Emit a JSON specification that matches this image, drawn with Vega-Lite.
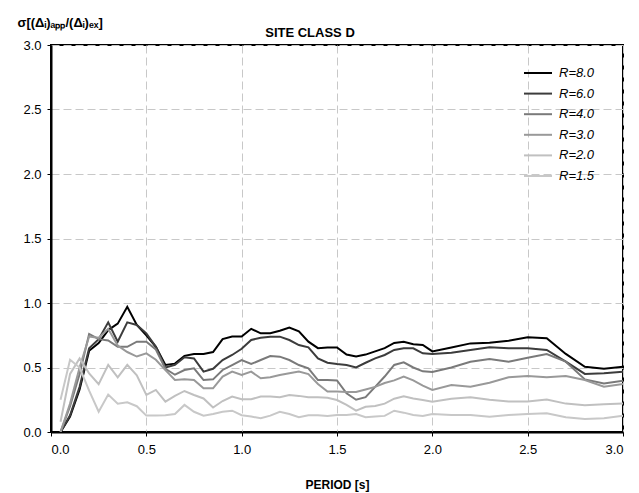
{
  "$schema": "https://vega.github.io/schema/vega-lite/v6.json",
  "width": 572,
  "height": 387,
  "autosize": {"type": "none"},
  "padding": {"left": 51, "top": 45, "right": 16, "bottom": 61},
  "background": "white",
  "config": {
    "font": "Liberation Sans",
    "view": {"stroke": "black", "strokeWidth": 2},
    "axis": {
      "grid": true,
      "gridDash": [8, 4],
      "gridColor": "#c8c8c8",
      "gridWidth": 1,
      "domainColor": "black",
      "domainWidth": 2,
      "tickColor": "black",
      "tickSize": 4,
      "labelFont": "Liberation Sans",
      "labelFontSize": 13,
      "labelColor": "black",
      "titleFont": "Liberation Sans",
      "titleColor": "black",
      "titleFontWeight": "bold"
    }
  },
  "title": {
    "text": "SITE CLASS D",
    "font": "Liberation Sans",
    "fontSize": 13,
    "fontWeight": "bold",
    "color": "black",
    "dx": -27,
    "dy": 32,
    "offset": 8
  },
  "datasets": {
    "curves": [
      {"T": 0.05, "r80": 0.00, "r60": 0.00, "r40": 0.00, "r30": 0.00, "r20": 0.08, "r15": 0.25},
      {"T": 0.10, "r80": 0.12, "r60": 0.13, "r40": 0.20, "r30": 0.22, "r20": 0.45, "r15": 0.56},
      {"T": 0.15, "r80": 0.33, "r60": 0.35, "r40": 0.45, "r30": 0.50, "r20": 0.57, "r15": 0.50},
      {"T": 0.20, "r80": 0.63, "r60": 0.65, "r40": 0.76, "r30": 0.74, "r20": 0.455, "r15": 0.32},
      {"T": 0.25, "r80": 0.69, "r60": 0.72, "r40": 0.72, "r30": 0.73, "r20": 0.37, "r15": 0.157},
      {"T": 0.30, "r80": 0.79, "r60": 0.85, "r40": 0.71, "r30": 0.80, "r20": 0.52, "r15": 0.29},
      {"T": 0.35, "r80": 0.84, "r60": 0.70, "r40": 0.66, "r30": 0.67, "r20": 0.424, "r15": 0.22},
      {"T": 0.40, "r80": 0.97, "r60": 0.85, "r40": 0.66, "r30": 0.62, "r20": 0.52, "r15": 0.23},
      {"T": 0.45, "r80": 0.83, "r60": 0.83, "r40": 0.70, "r30": 0.585, "r20": 0.44, "r15": 0.20},
      {"T": 0.50, "r80": 0.75, "r60": 0.765, "r40": 0.70, "r30": 0.61, "r20": 0.287, "r15": 0.127},
      {"T": 0.55, "r80": 0.66, "r60": 0.66, "r40": 0.64, "r30": 0.56, "r20": 0.326, "r15": 0.127},
      {"T": 0.60, "r80": 0.52, "r60": 0.50, "r40": 0.49, "r30": 0.48, "r20": 0.235, "r15": 0.13},
      {"T": 0.65, "r80": 0.53, "r60": 0.52, "r40": 0.444, "r30": 0.403, "r20": 0.28, "r15": 0.14},
      {"T": 0.70, "r80": 0.59, "r60": 0.58, "r40": 0.48, "r30": 0.408, "r20": 0.318, "r15": 0.21},
      {"T": 0.75, "r80": 0.605, "r60": 0.57, "r40": 0.494, "r30": 0.403, "r20": 0.287, "r15": 0.157},
      {"T": 0.80, "r80": 0.605, "r60": 0.468, "r40": 0.403, "r30": 0.339, "r20": 0.26, "r15": 0.127},
      {"T": 0.85, "r80": 0.62, "r60": 0.49, "r40": 0.408, "r30": 0.339, "r20": 0.19, "r15": 0.14},
      {"T": 0.90, "r80": 0.72, "r60": 0.558, "r40": 0.481, "r30": 0.429, "r20": 0.24, "r15": 0.157},
      {"T": 0.95, "r80": 0.74, "r60": 0.597, "r40": 0.519, "r30": 0.468, "r20": 0.275, "r15": 0.165},
      {"T": 1.00, "r80": 0.74, "r60": 0.645, "r40": 0.558, "r30": 0.442, "r20": 0.254, "r15": 0.13},
      {"T": 1.05, "r80": 0.80, "r60": 0.713, "r40": 0.527, "r30": 0.468, "r20": 0.254, "r15": 0.12},
      {"T": 1.10, "r80": 0.765, "r60": 0.731, "r40": 0.558, "r30": 0.416, "r20": 0.275, "r15": 0.106},
      {"T": 1.15, "r80": 0.765, "r60": 0.739, "r40": 0.589, "r30": 0.424, "r20": 0.275, "r15": 0.127},
      {"T": 1.20, "r80": 0.785, "r60": 0.739, "r40": 0.584, "r30": 0.442, "r20": 0.27, "r15": 0.157},
      {"T": 1.25, "r80": 0.81, "r60": 0.713, "r40": 0.558, "r30": 0.455, "r20": 0.287, "r15": 0.14},
      {"T": 1.30, "r80": 0.78, "r60": 0.674, "r40": 0.519, "r30": 0.468, "r20": 0.28, "r15": 0.115},
      {"T": 1.35, "r80": 0.70, "r60": 0.656, "r40": 0.494, "r30": 0.449, "r20": 0.27, "r15": 0.13},
      {"T": 1.40, "r80": 0.65, "r60": 0.571, "r40": 0.403, "r30": 0.372, "r20": 0.27, "r15": 0.13},
      {"T": 1.45, "r80": 0.655, "r60": 0.537, "r40": 0.403, "r30": 0.313, "r20": 0.265, "r15": 0.124},
      {"T": 1.50, "r80": 0.655, "r60": 0.527, "r40": 0.40, "r30": 0.313, "r20": 0.248, "r15": 0.132},
      {"T": 1.55, "r80": 0.60, "r60": 0.519, "r40": 0.30, "r30": 0.31, "r20": 0.21, "r15": 0.132},
      {"T": 1.60, "r80": 0.585, "r60": 0.501, "r40": 0.25, "r30": 0.31, "r20": 0.165, "r15": 0.14},
      {"T": 1.65, "r80": 0.60, "r60": 0.537, "r40": 0.27, "r30": 0.33, "r20": 0.196, "r15": 0.114},
      {"T": 1.70, "r80": 0.625, "r60": 0.571, "r40": 0.35, "r30": 0.35, "r20": 0.201, "r15": 0.12},
      {"T": 1.75, "r80": 0.65, "r60": 0.597, "r40": 0.43, "r30": 0.38, "r20": 0.22, "r15": 0.125},
      {"T": 1.80, "r80": 0.69, "r60": 0.636, "r40": 0.52, "r30": 0.40, "r20": 0.258, "r15": 0.165},
      {"T": 1.85, "r80": 0.70, "r60": 0.649, "r40": 0.54, "r30": 0.43, "r20": 0.276, "r15": 0.15},
      {"T": 1.90, "r80": 0.68, "r60": 0.649, "r40": 0.50, "r30": 0.40, "r20": 0.26, "r15": 0.132},
      {"T": 1.95, "r80": 0.675, "r60": 0.61, "r40": 0.47, "r30": 0.36, "r20": 0.248, "r15": 0.124},
      {"T": 2.00, "r80": 0.625, "r60": 0.605, "r40": 0.465, "r30": 0.326, "r20": 0.235, "r15": 0.139},
      {"T": 2.10, "r80": 0.655, "r60": 0.615, "r40": 0.50, "r30": 0.364, "r20": 0.258, "r15": 0.132},
      {"T": 2.20, "r80": 0.687, "r60": 0.636, "r40": 0.545, "r30": 0.351, "r20": 0.27, "r15": 0.132},
      {"T": 2.30, "r80": 0.692, "r60": 0.656, "r40": 0.566, "r30": 0.382, "r20": 0.25, "r15": 0.119},
      {"T": 2.40, "r80": 0.708, "r60": 0.649, "r40": 0.545, "r30": 0.424, "r20": 0.237, "r15": 0.132},
      {"T": 2.50, "r80": 0.734, "r60": 0.649, "r40": 0.576, "r30": 0.434, "r20": 0.237, "r15": 0.139},
      {"T": 2.60, "r80": 0.726, "r60": 0.636, "r40": 0.605, "r30": 0.424, "r20": 0.252, "r15": 0.145},
      {"T": 2.70, "r80": 0.605, "r60": 0.545, "r40": 0.545, "r30": 0.434, "r20": 0.22, "r15": 0.114},
      {"T": 2.80, "r80": 0.506, "r60": 0.45, "r40": 0.408, "r30": 0.403, "r20": 0.208, "r15": 0.10},
      {"T": 2.90, "r80": 0.491, "r60": 0.455, "r40": 0.377, "r30": 0.351, "r20": 0.215, "r15": 0.106},
      {"T": 3.00, "r80": 0.506, "r60": 0.468, "r40": 0.398, "r30": 0.372, "r20": 0.22, "r15": 0.127}
    ]
  },
  "layer": [
    {
      "data": {"name": "curves"},
      "transform": [
        {"fold": ["r80", "r60", "r40", "r30", "r20", "r15"], "as": ["R", "v"]}
      ],
      "mark": {"type": "line", "clip": true},
      "encoding": {
        "x": {
          "field": "T",
          "type": "quantitative",
          "scale": {"domain": [0, 3], "nice": false},
          "axis": {
            "values": [0, 0.5, 1, 1.5, 2, 2.5, 3],
            "format": ".1f",
            "labelPadding": 7,
            "title": "PERIOD [s]",
            "titleFontSize": 12,
            "titlePadding": 23
          }
        },
        "y": {
          "field": "v",
          "type": "quantitative",
          "scale": {"domain": [0, 3], "nice": false},
          "axis": {
            "values": [0, 0.5, 1, 1.5, 2, 2.5, 3],
            "format": ".1f",
            "labelPadding": 6,
            "title": "σ[(Δᵢ)ₐₚₚ/(Δᵢ)ₑₓ]",
            "titleFontSize": 13,
            "titleAngle": 0,
            "titleAlign": "left",
            "titleBaseline": "alphabetic",
            "titleX": -34,
            "titleY": -19
          }
        },
        "color": {
          "field": "R",
          "type": "ordinal",
          "scale": {
            "domain": ["r80", "r60", "r40", "r30", "r20", "r15"],
            "range": ["#000000", "#3c3c3c", "#7a7a7a", "#999999", "#c0c0c0", "#c8c8c8"]
          },
          "legend": {
            "title": null,
            "orient": "none",
            "legendX": 479,
            "legendY": 20,
            "padding": 0,
            "symbolType": "M-2,0L2,0",
            "symbolSize": 196,
            "labelOffset": 13,
            "rowPadding": 5.6,
            "labelFont": "Liberation Sans",
            "labelFontSize": 13,
            "labelFontStyle": "italic",
            "labelColor": "black",
            "labelExpr": "{'r80':'R=8.0','r60':'R=6.0','r40':'R=4.0','r30':'R=3.0','r20':'R=2.0','r15':'R=1.5'}[datum.label]"
          }
        },
        "strokeWidth": {
          "field": "R",
          "type": "ordinal",
          "scale": {
            "domain": ["r80", "r60", "r40", "r30", "r20", "r15"],
            "range": [2, 2, 2, 2, 2, 1]
          },
          "legend": {
            "title": null,
            "orient": "none",
            "legendX": 479,
            "legendY": 20,
            "padding": 0,
            "symbolType": "M-2,0L2,0",
            "symbolSize": 196,
            "labelOffset": 13,
            "rowPadding": 5.6,
            "labelFont": "Liberation Sans",
            "labelFontSize": 13,
            "labelFontStyle": "italic",
            "labelColor": "black",
            "labelExpr": "{'r80':'R=8.0','r60':'R=6.0','r40':'R=4.0','r30':'R=3.0','r20':'R=2.0','r15':'R=1.5'}[datum.label]"
          }
        }
      }
    },
    {
      "mark": {
        "type": "text",
        "text": ["Tₛ = 0.60 s", "C₂ as Collapse Prevention performance level", "C₂=1.5 for T < 0.1 s", "C₂=1.2 for T > Tₛ"],
        "lineHeight": 25,
        "align": "left",
        "baseline": "alphabetic",
        "font": "Liberation Sans",
        "fontSize": 13,
        "color": "black"
      },
      "encoding": {
        "x": {"datum": 0.084, "type": "quantitative"},
        "y": {"datum": 2.717, "type": "quantitative"}
      }
    },
    {
      "mark": {
        "type": "text",
        "text": "WITH CAPPING",
        "align": "left",
        "baseline": "alphabetic",
        "font": "Liberation Sans",
        "fontSize": 13,
        "color": "black"
      },
      "encoding": {
        "x": {"datum": 0.121, "type": "quantitative"},
        "y": {"datum": 1.894, "type": "quantitative"}
      }
    }
  ]
}
